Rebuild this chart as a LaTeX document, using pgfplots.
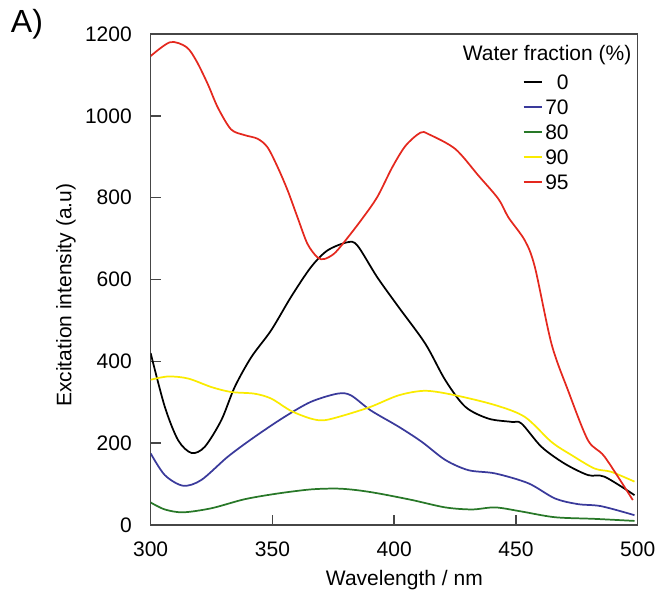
\documentclass[border=0pt]{standalone}
\usepackage{fontspec}
\setmainfont{Liberation Sans}
\usepackage{pgfplots}
\pgfplotsset{compat=1.18}
\definecolor{c0}{RGB}{0,0,0}
\definecolor{c70}{RGB}{58,58,155}
\definecolor{c80}{RGB}{40,120,40}
\definecolor{c90}{RGB}{250,235,0}
\definecolor{c95}{RGB}{228,40,30}
\definecolor{axcol}{RGB}{70,70,70}
\begin{document}
\begin{tikzpicture}[font=\fontsize{15.75}{18}\selectfont]
\begin{axis}[name=ax, at={(0,0)}, anchor=south west, scale only axis,
 width=365.25pt, height=368.25pt,
 xmin=300, xmax=500, ymin=0, ymax=1200,
 xtick={300,350,400,450,500}, ytick={0,200,400,600,800,1000,1200},
 tick align=inside, tick pos=left, major tick length=7.5pt,
 axis line style={axcol, line width=1.1pt},
 every tick/.style={axcol, line width=1.1pt},
 /pgf/number format/assume math mode=true,
 /pgf/number format/set thousands separator={},
 xticklabel style={anchor=north, inner sep=0pt, yshift=-12.5pt},
 yticklabel style={anchor=east, inner sep=0pt, xshift=-14pt},
 xlabel={Wavelength / nm}, ylabel={Excitation intensity (a.u)},
 every axis x label/.style={at={(axis description cs:0.521,-0.112)}, anchor=center},
 every axis y label/.style={at={(axis description cs:-0.174,0.468)}, anchor=center, rotate=90},
 legend style={draw=none, fill=none, at={(axis description cs:0.814,0.923)}, anchor=north,
   inner sep=0pt, row sep=3.75pt, nodes={inner sep=2pt, text height=11pt, text depth=0pt}},
 legend cell align=right,
 legend image code/.code={\draw[#1] (0pt,0pt) -- (13.5pt,0pt);},
 every axis plot/.append style={line width=1.3pt, smooth, tension=0.5},
]
\addplot[c0] coordinates {
(300,420) (305.8,289) (311.3,207) (316.8,176) (322.2,191) (329,256) (334.5,337) (341.3,410)
(349.5,476) (357.6,557) (365.8,630) (372.6,671) (380.8,691) (384.9,683) (393,606) (401.9,532)
(412.8,443) (421,354) (429.2,289) (438.7,260) (448.2,252) (452.3,248) (460.5,191) (470,150)
(479.6,122) (486.4,118) (498.7,73)};
\addlegendentry{0}
\addplot[c70] coordinates {
(300,175) (305.8,122) (313.3,96) (320.8,110) (331.7,167) (342.6,215) (354.9,264) (365.8,301)
(376.7,321) (382.2,317) (390.4,280) (401.9,240) (411.4,203) (421,159) (430.5,134) (441.5,126)
(455.1,102) (466,65) (475.5,51) (485,46) (498.7,24)};
\addlegendentry{70}
\addplot[c80] coordinates {
(300,55) (305.8,38) (313.3,31) (325,41) (338.6,63) (352.2,77) (365.8,87) (376.7,89) (384.9,85)
(393.7,77) (407.4,61) (421,43) (432,38) (441.5,43) (452.3,33) (466,19) (482.3,15) (498.7,10)};
\addlegendentry{80}
\addplot[c90] coordinates {
(300,355) (307.2,363) (315.4,358) (325,337) (333.1,325) (342.6,321) (349.5,309) (357.6,279)
(365.8,260) (371.3,256) (379.4,268) (390.4,289) (401.9,317) (412.8,328) (425.1,317) (441.5,293)
(453.7,264) (464.6,203) (472.8,171) (482.3,138) (489.1,130) (498.7,106)};
\addlegendentry{90}
\addplot[c95] coordinates {
(300,1146) (308,1180) (314.7,1168) (318.8,1134) (323.5,1077) (327.6,1020) (333,967) (338.5,953)
(343.9,944) (348,923) (352.2,874) (356.3,817) (360.3,752) (364.4,687) (368.5,654) (371.3,650)
(375.3,663) (379.4,691) (386.3,744) (393,801) (399.2,874) (404.7,927) (410.8,959) (414.2,955)
(425.1,919) (434.6,854) (442.8,797) (446.9,752) (453.7,695) (457.8,630) (464.6,443) (471.4,329)
(479.6,207) (486.4,167) (498,61)};
\addlegendentry{95}
\node at (axis description cs:0.814,0.957) {Water fraction (\%)};
\end{axis}
\node[font=\fontsize{24}{28}\selectfont] at ([shift={(-92.8pt,375.75pt)}]ax.south west) {A)};
\path (ax.south west) ++(-113pt,-53.25pt) rectangle ++(500.25pt,447pt);
\end{tikzpicture}
\end{document}
